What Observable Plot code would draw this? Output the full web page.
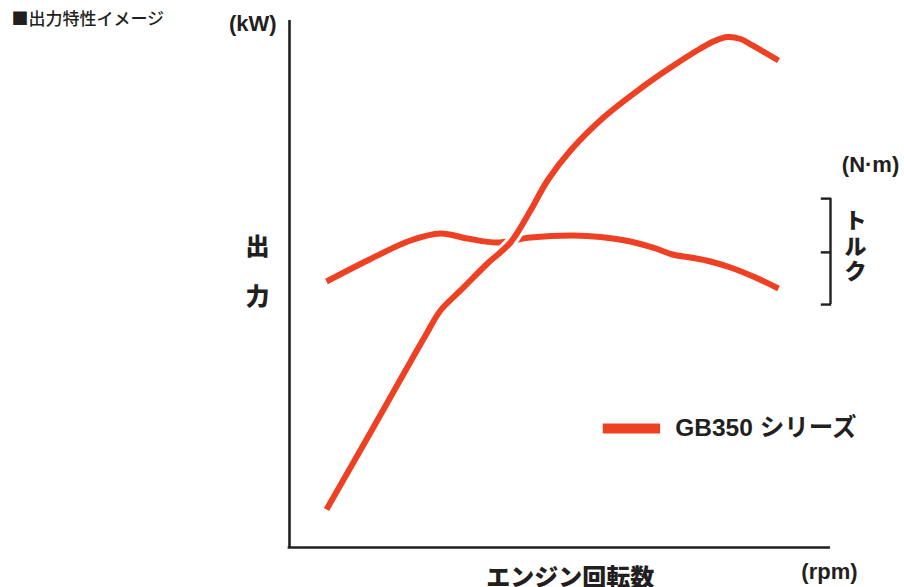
<!DOCTYPE html>
<html>
<head>
<meta charset="utf-8">
<script src="https://cdn.jsdelivr.net/npm/d3@7"></script>
<script src="https://cdn.jsdelivr.net/npm/@observablehq/plot@0.6"></script>
<style>
  html, body { margin: 0; padding: 0; background: #fff; }
  #chart svg { display: block; }
</style>
</head>
<body>
<div id="chart"></div>
<script>
// Engine speed (relative, 0–100) and relative output values
const rpmPower = [6.84, 14.97, 21.44, 25.14, 27.91, 31.61, 36.60, 40.85, 44.55, 47.69, 51.94, 58.04, 64.88, 70.43, 75.97, 78.56, 80.96, 83.36, 85.58, 90.39];
const power    = [7.21, 21.82, 33.59, 40.23, 44.97, 48.77, 53.89, 57.87, 63.95, 69.64, 75.33, 81.59, 87.10, 91.08, 94.69, 96.11, 96.87, 96.49, 95.26, 92.41];
const rpmTorque = [6.84, 14.42, 22.37, 27.91, 32.90, 38.45, 44.55, 52.50, 57.49, 63.03, 67.65, 70.79, 74.12, 77.82, 81.52, 86.14, 90.39];
const torque    = [50.47, 54.46, 58.25, 59.58, 58.63, 57.87, 58.82, 59.20, 58.92, 58.06, 56.74, 55.60, 55.03, 54.27, 53.13, 51.23, 49.15];

const seriesName = "GB350 シリーズ";
const chartTitle = "■出力特性イメージ";
const powerUnit = "(kW)";
const powerLabel = ["出", "力"];
const torqueUnit = "(N·m)";
const torqueLabel = "ト\nル\nク";
const xLabel = "エンジン回転数";
const xUnit = "(rpm)";

// torque bracket range (in output units)
const torqueBracket = [46.1, 56.0, 66.2];

const powerData = rpmPower.map((x, i) => ({x, y: power[i]}));
const torqueData = rpmTorque.map((x, i) => ({x, y: torque[i]}));

const RED = "#ee4123";
const INK = "#231f20";
const LATIN = "'Liberation Sans', Arial, 'Noto Sans CJK JP', sans-serif";
const CJK = "'Noto Sans CJK JP', sans-serif";

const chart = Plot.plot({
  width: 904,
  height: 587,
  marginLeft: 289,
  marginRight: 74,
  marginTop: 20,
  marginBottom: 40,
  x: {domain: [0, 100], axis: null},
  y: {domain: [0, 100], axis: null},
  marks: [
    // axes
    Plot.ruleX([0], {y1: 0, y2: 100, stroke: INK, strokeWidth: 2.6}),
    Plot.ruleY([0], {x1: -0.25, x2: 100, stroke: INK, strokeWidth: 2.6}),
    // torque bracket
    Plot.ruleX([100], {y1: torqueBracket[0], y2: torqueBracket[2], stroke: INK, strokeWidth: 2.4}),
    Plot.ruleY(torqueBracket, {x1: 98.3, x2: 100.2, stroke: INK, strokeWidth: 2.4}),
    // torque curve
    Plot.line(torqueData, {x: "x", y: "y", curve: "catmull-rom", stroke: RED, strokeWidth: 6, strokeLinecap: "butt"}),
    // power curve with white halo
    Plot.line(powerData, {x: "x", y: "y", curve: "catmull-rom", stroke: "white", strokeWidth: 12, strokeLinecap: "butt"}),
    Plot.line(powerData, {x: "x", y: "y", curve: "catmull-rom", stroke: RED, strokeWidth: 6, strokeLinecap: "butt"}),
    // legend
    Plot.ruleY([22.6], {x1: 58.0, x2: 68.6, stroke: RED, strokeWidth: 10}),
    Plot.text([seriesName], {x: 71.3, y: 22.6, text: d => d, textAnchor: "start", fontSize: 24.5, fontWeight: "bold", fontFamily: LATIN, fill: INK}),
    // title
    Plot.text([chartTitle], {x: -51.4, y: 100.2, text: d => d, textAnchor: "start", fontSize: 17, fontWeight: 500, fontFamily: CJK, fill: INK, letterSpacing: "4px"}),
    // power unit and label
    Plot.text([powerUnit], {x: -6.8, y: 99.4, text: d => d, fontSize: 22, fontWeight: "bold", fontFamily: LATIN, fill: INK}),
    Plot.text(powerLabel, {x: -5.9, y: (d, i) => [56.9, 47.4][i], text: d => d, fontSize: 24, fontWeight: 900, fontFamily: CJK, fill: INK}),
    // torque unit and label
    Plot.text([torqueUnit], {x: 107.4, y: 72.5, text: d => d, fontSize: 22, fontWeight: "bold", fontFamily: LATIN, fill: INK}),
    Plot.text([torqueLabel], {x: 104.6, y: 57.3, text: d => d, fontSize: 22, fontWeight: 900, fontFamily: CJK, fill: INK, lineHeight: 1.16}),
    // x label and unit
    Plot.text([xLabel], {x: 51.9, y: -5.9, text: d => d, fontSize: 24, fontWeight: 900, fontFamily: CJK, fill: INK}),
    Plot.text([xUnit], {x: 99.8, y: -4.6, text: d => d, fontSize: 22, fontWeight: "bold", fontFamily: LATIN, fill: INK})
  ]
});
document.getElementById("chart").appendChild(chart);
</script>
</body>
</html>
